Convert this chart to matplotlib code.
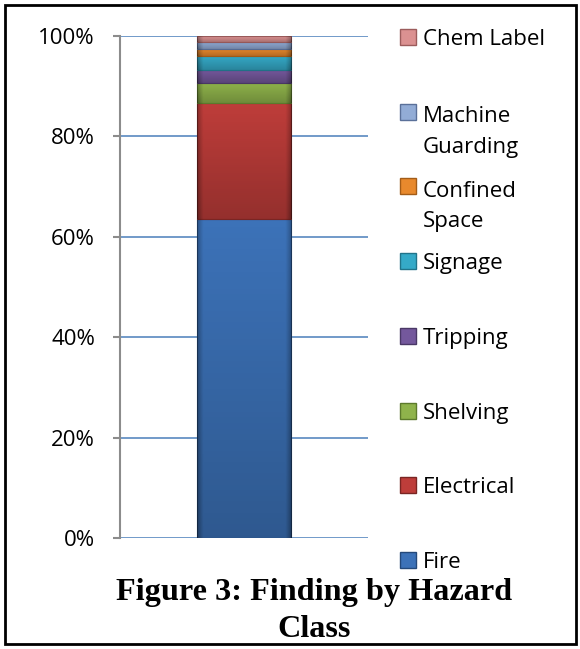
import numpy as np
import matplotlib.pyplot as plt
from matplotlib.patches import Rectangle
from matplotlib.ticker import PercentFormatter

# share of findings per hazard class (%), bottom to top of the stack
classes = ['Fire', 'Electrical', 'Shelving', 'Tripping', 'Signage',
           'Confined\nSpace', 'Machine\nGuarding', 'Chem Label']
shares = [63.5, 23.1, 4.0, 2.6, 2.8, 1.4, 1.5, 1.1]
colors = ['#3c72b8', '#be3d3a', '#8fb34b', '#74589c', '#35aac8',
          '#e8892d', '#92acd6', '#db9191']
edges = ['#24497a', '#7a2523', '#5c7a2c', '#4a3866', '#21748a',
         '#a35c18', '#5a7099', '#9c5c5c']
yticks = [0, 20, 40, 60, 80, 100]

W, H = 580, 649
fig = plt.figure(figsize=(W / 100, H / 100), dpi=100)
ax = fig.add_axes([120 / W, 1 - 538 / H, 248 / W, 502 / H])

# shading overlay: darker toward the bottom and the sides of each block
ny, nx = 64, 64
gy = np.linspace(0, 1, ny)[:, None]        # 0 at top row
gx = np.linspace(-1, 1, nx)[None, :]
shade = np.zeros((ny, nx, 4))
shade[..., 3] = 0.22 * gy + 0.25 * np.clip((np.abs(gx) - 0.88) / 0.12, 0, 1)

bw = 0.38
bottom = 0
for val, c, ec in zip(shares, colors, edges):
    bars = ax.bar(0, val, width=bw, bottom=bottom, color=c, edgecolor=ec,
                  linewidth=0.8, zorder=3)
    im = ax.imshow(shade, extent=(-bw / 2, bw / 2, bottom, bottom + val),
                   aspect='auto', zorder=4, interpolation='bilinear')
    im.set_clip_path(bars[0])
    bottom += val

ax.set_xlim(-0.5, 0.5)
ax.set_ylim(0, 100)
ax.set_yticks(yticks)
ax.yaxis.set_major_formatter(PercentFormatter(decimals=0))
ax.set_xticks([])
ax.grid(axis='y', color='#4a7ebb', linewidth=1.1, zorder=0)
for s in ['top', 'right', 'bottom']:
    ax.spines[s].set_visible(False)
ax.spines['left'].set_color('#8c8c8c')
ax.spines['left'].set_linewidth(1.5)
ax.tick_params(axis='y', length=5, width=1.5, color='#8c8c8c', pad=13,
               labelsize=16, labelcolor='#000000')
for lab in ax.get_yticklabels():
    lab.set_fontfamily('Open Sans')

# legend, top entry first, evenly spaced down the right side
line_gap = 33
for i, (name, c, ec) in enumerate(zip(classes[::-1], colors[::-1], edges[::-1])):
    yc = 37 + i * 74.7
    fig.add_artist(Rectangle((400 / W, 1 - (yc + 8) / H), 16 / W, 16 / H,
                             transform=fig.transFigure, facecolor=c,
                             edgecolor=ec, linewidth=1))
    # baseline alignment follows the last line of a wrapped label
    n_extra = name.count('\n')
    fig.text(423 / W, 1 - (yc + 8 + n_extra * line_gap) / H, name,
             fontsize=16, family='Open Sans', va='baseline', ha='left',
             linespacing=1.58)

fig.text(314 / W, 1 - 637 / H, 'Figure 3: Finding by Hazard\nClass',
         ha='center', va='baseline', fontsize=23.2, fontweight='bold',
         family='Liberation Serif', linespacing=1.35)

fig.add_artist(Rectangle((5 / W, 5 / H), 571 / W, 639 / H,
                         transform=fig.transFigure, fill=False,
                         edgecolor='black', linewidth=2))

fig.savefig('out.png', dpi=100)
